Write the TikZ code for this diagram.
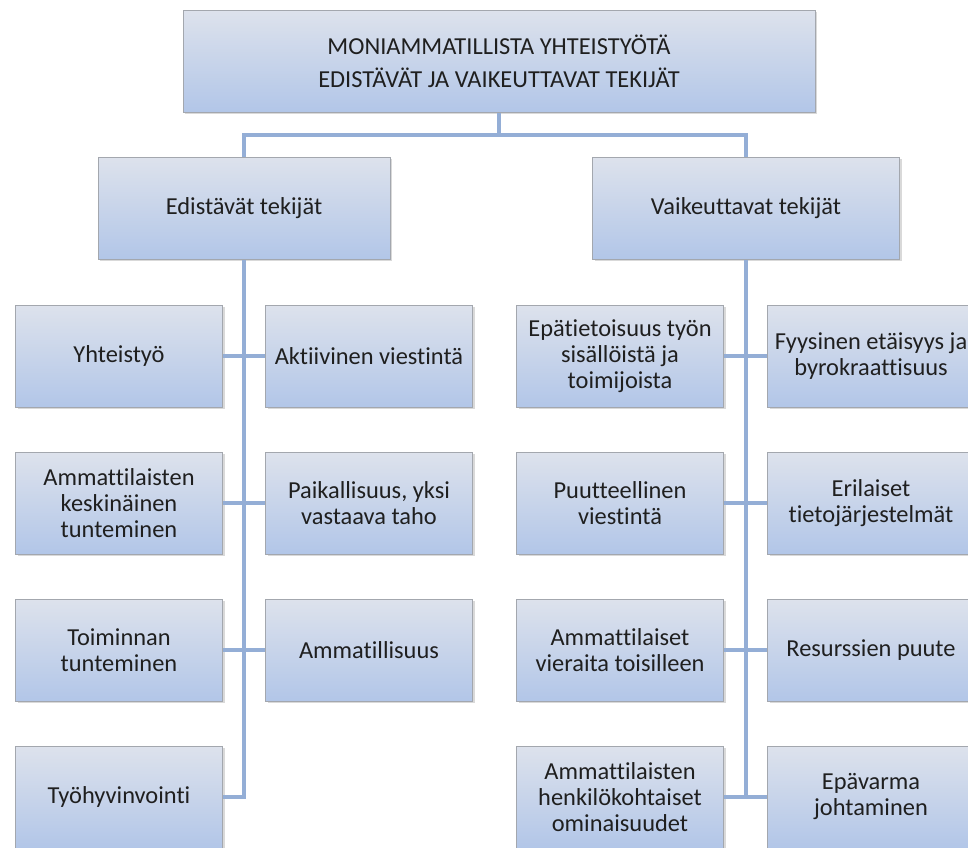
\documentclass[tikz,border=0pt]{standalone}
\usepackage{fontspec}
\setmainfont{Carlito}[Ligatures=CommonOff]
\usetikzlibrary{shadows,positioning}

\definecolor{boxtop}{HTML}{DDE2EC}
\definecolor{boxbottom}{HTML}{B2C6E8}
\definecolor{linkblue}{HTML}{94AED6}
\definecolor{boxedge}{HTML}{A3A7AE}

\begin{document}
\begin{tikzpicture}[
    x=1pt, y=-1pt,
    node font=\fontsize{24.4}{26}\selectfont,
    factor box/.style={draw=boxedge, line width=1pt, top color=boxtop, bottom color=boxbottom,
        text=black!88, align=center, inner sep=2pt, minimum width=207pt, minimum height=102pt,
        drop shadow={shadow xshift=2pt, shadow yshift=-2pt, opacity=0.3}},
    link/.style={draw=linkblue, line width=4pt},
]

% Page frame
\useasboundingbox (0,0) rectangle (968,847);
\clip (0,0) rectangle (968,847);

% Title
\node[factor box, minimum width=632pt] (title) at (499,61)
    {MONIAMMATILLISTA YHTEISTYÖTÄ\\[7pt] EDISTÄVÄT JA VAIKEUTTAVAT TEKIJÄT};

% Main branches
\node[factor box, minimum width=292pt] (edist) at (244,208) {Edistävät tekijät};
\node[factor box, minimum width=307pt] (vaik) at (746,208) {Vaikeuttavat tekijät};

% Promoting factors
\node[factor box] (e1) at (119,356) {Yhteistyö};
\node[factor box] (e2) at (369,356) {Aktiivinen viestintä};
\node[factor box] (e3) at (119,503) {Ammattilaisten\\keskinäinen\\tunteminen};
\node[factor box] (e4) at (369,503) {Paikallisuus, yksi\\vastaava taho};
\node[factor box] (e5) at (119,650) {Toiminnan\\tunteminen};
\node[factor box] (e6) at (369,650) {Ammatillisuus};
\node[factor box] (e7) at (119,797) {Työhyvinvointi};

% Hindering factors
\node[factor box] (v1) at (620,356) {Epätietoisuus työn\\sisällöistä ja\\toimijoista};
\node[factor box] (v2) at (871,356) {Fyysinen etäisyys ja\\byrokraattisuus};
\node[factor box] (v3) at (620,503) {Puutteellinen\\viestintä};
\node[factor box] (v4) at (871,503) {Erilaiset\\tietojärjestelmät};
\node[factor box] (v5) at (620,650) {Ammattilaiset\\vieraita toisilleen};
\node[factor box] (v6) at (871,650) {Resurssien puute};
\node[factor box] (v7) at (620,797) {Ammattilaisten\\henkilökohtaiset\\ominaisuudet};
\node[factor box] (v8) at (871,797) {Epävarma\\johtaminen};

% Connectors
\coordinate (fork) at (499,135);
\draw[link] (title.south) -- (fork) -| (edist.north);
\draw[link] (fork) -| (vaik.north);

\draw[link] (edist.south) -- (edist.south |- e7.east) -- (e7.east);
\draw[link] (e1.east) -- (e2.west);
\draw[link] (e3.east) -- (e4.west);
\draw[link] (e5.east) -- (e6.west);

\draw[link] (vaik.south) -- (vaik.south |- v7.east);
\draw[link] (v1.east) -- (v2.west);
\draw[link] (v3.east) -- (v4.west);
\draw[link] (v5.east) -- (v6.west);
\draw[link] (v7.east) -- (v8.west);

\end{tikzpicture}
\end{document}
